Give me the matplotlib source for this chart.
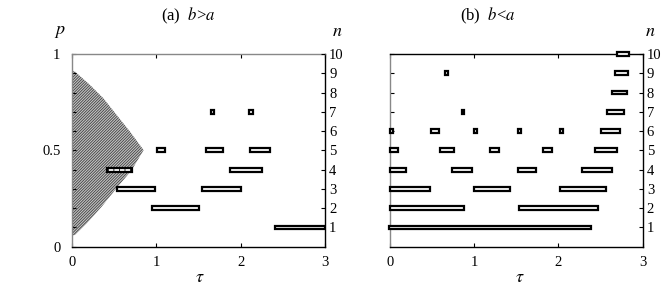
import matplotlib
matplotlib.use("Agg")
import matplotlib.pyplot as plt
import numpy as np

plt.rcParams['font.family'] = ['Liberation Serif', 'DejaVu Serif']
plt.rcParams['mathtext.fontset'] = 'stix'
plt.rcParams['hatch.linewidth'] = 0.6

# ---- panel (a) b>a : bars (n level, tau start, tau end)
n_a = [1, 2, 3, 3, 4, 4, 5, 5, 5, 7, 7]
start_a = [2.41, 0.955, 0.533, 1.548, 0.414, 1.87, 1.007, 1.588, 2.11, 1.647, 2.097]
end_a = [3.0, 1.51, 0.99, 2.0, 0.72, 2.25, 1.10, 1.79, 2.345, 1.69, 2.15]
hatched_a = [False, False, False, False, True, False, False, False, False, False, False]

# shaded region boundary (tau, p)
tau_upper = [0.0, 0.04, 0.217, 0.375, 0.533, 0.69, 0.85]
p_upper = [0.915, 0.908, 0.839, 0.77, 0.683, 0.597, 0.502]
tau_lower = [0.85, 0.71, 0.513, 0.355, 0.178, 0.04, 0.0]
p_lower = [0.50, 0.398, 0.294, 0.208, 0.121, 0.061, 0.058]

# ---- panel (b) b<a
n_b = [1,
       2, 2,
       3, 3, 3,
       4, 4, 4, 4,
       5, 5, 5, 5, 5,
       6, 6, 6, 6, 6, 6,
       7, 7,
       8,
       9, 9,
       10]
start_b = [-0.01,
           0.0, 1.53,
           0.0, 1.0, 2.02,
           0.0, 0.74, 1.52, 2.28,
           0.0, 0.59, 1.19, 1.82, 2.43,
           0.0, 0.49, 1.0, 1.52, 2.02, 2.50,
           0.855, 2.58,
           2.63,
           0.657, 2.67,
           2.70]
end_b = [2.39,
         0.88, 2.47,
         0.48, 1.43, 2.56,
         0.19, 0.97, 1.73, 2.63,
         0.10, 0.76, 1.29, 1.92, 2.69,
         0.03, 0.58, 1.03, 1.55, 2.05, 2.73,
         0.88, 2.78,
         2.81,
         0.69, 2.82,
         2.84]

xticks = [0, 1, 2, 3]
n_ticks = list(range(1, 11))

fig = plt.figure(figsize=(6.64, 2.97), dpi=100)
axA = fig.add_axes([71.7/664, 1-246.7/297, (325-71.7)/664, (246.7-54)/297])
axB = fig.add_axes([390/664, 1-246.7/297, (642.7-390)/664, (246.7-54)/297])

FS = 10.5
BAR_H = 0.2
LW = 1.6

def style(ax, gray_top):
    ax.set_xlim(0, 3)
    ax.set_xticks(xticks)
    ax.set_xticklabels([str(t) for t in xticks], fontsize=FS)
    ax.tick_params(axis='x', direction='in', top=True, bottom=True, length=3, pad=7, colors='black')
    for s in ax.spines.values():
        s.set_linewidth(1.0)
    ax.spines['left'].set_color('#888888')
    ax.spines['top'].set_color('#888888' if gray_top else 'black')

# panel A (left axis p in 0..1, right axis n 0..10)
axA.set_ylim(0, 1)
axA.fill(tau_upper + tau_lower, p_upper + p_lower, facecolor='#c4c4c4', linewidth=0)
axA.fill(tau_upper + tau_lower, p_upper + p_lower, facecolor='none',
         edgecolor='#404040', hatch='/' * 12, linewidth=0)
axA2 = axA.twinx()
axA2.set_ylim(0, 10)
for n, s, e, h in zip(n_a, start_a, end_a, hatched_a):
    axA2.barh(n, e - s, left=s, height=BAR_H, color='white',
              edgecolor='black', linewidth=LW, hatch='|||' if h else None, zorder=3)
style(axA, True)
axA.set_yticks(np.round(np.arange(0, 1.01, 0.1), 1))
axA.set_yticklabels(['0' if abs(v) < 1e-9 else ('0.5' if abs(v-0.5) < 1e-9 else ('1' if abs(v-1) < 1e-9 else '')) for v in np.arange(0, 1.01, 0.1)], fontsize=FS)
axA.tick_params(axis='y', direction='in', length=3, pad=8)
axA2.set_yticks(n_ticks)
axA2.set_yticklabels([str(v) for v in n_ticks], fontsize=FS)
axA2.tick_params(axis='y', direction='in', length=3, pad=3)
for s in axA2.spines.values():
    s.set_visible(False)

# panel B
axB.set_ylim(0, 10)
for n, s, e in zip(n_b, start_b, end_b):
    axB.barh(n, e - s, left=s, height=BAR_H, color='white',
             edgecolor='black', linewidth=LW, zorder=3, clip_on=False)
style(axB, False)
axB.set_yticks(n_ticks)
axB.set_yticklabels([])
axB.tick_params(axis='y', direction='in', length=3, left=True, right=True)
axB2 = axB.twinx()
axB2.set_ylim(0, 10)
axB2.set_yticks(n_ticks)
axB2.set_yticklabels([str(v) for v in n_ticks], fontsize=FS)
axB2.tick_params(axis='y', direction='in', length=3, pad=3)
for s in axB2.spines.values():
    s.set_visible(False)

# titles and axis labels
fig.text(188/664, 1-16/297, r'(a)  $b$>$a$', ha='center', va='center', fontsize=12)
fig.text(488/664, 1-16/297, r'(b)  $b$<$a$', ha='center', va='center', fontsize=12)
fig.text(60/664, 1-32/297, r'$p$', ha='center', va='center', fontsize=13)
fig.text(337/664, 1-32/297, r'$n$', ha='center', va='center', fontsize=13)
fig.text(650/664, 1-32/297, r'$n$', ha='center', va='center', fontsize=13)
fig.text(200/664, 1-277/297, r'$\tau$', ha='center', va='center', fontsize=13)
fig.text(520/664, 1-277/297, r'$\tau$', ha='center', va='center', fontsize=13)

fig.savefig('out.png', dpi=100)
